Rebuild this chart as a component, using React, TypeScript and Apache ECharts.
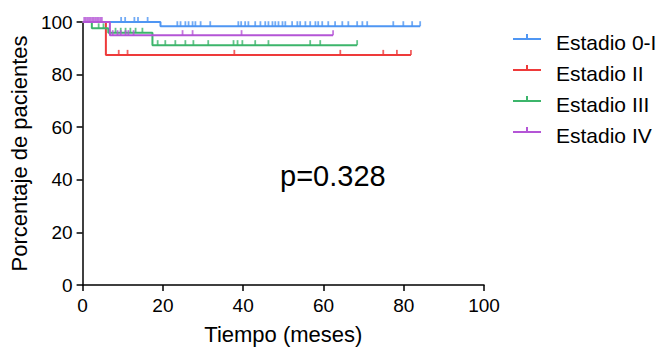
import React, { useEffect, useRef } from "react";
import * as echarts from "echarts";

// ---- data ----
const groupNames = ["Estadio 0-I", "Estadio II", "Estadio III", "Estadio IV"];
const groupColors = ["#4f96f3", "#ee3a3a", "#3cb56b", "#b455d6"];

// Kaplan-Meier steps: [month, % survival]
const stepsEstadio0I: [number, number][] = [[0, 100], [19.4, 98.4], [84.1, 98.4]];
const stepsEstadioII: [number, number][] = [[0, 100], [5.8, 87.5], [81.8, 87.5]];
const stepsEstadioIII: [number, number][] = [[0, 100], [2.3, 97.6], [6.4, 95.9], [17.4, 91.2], [68.4, 91.2]];
const stepsEstadioIV: [number, number][] = [[0, 100], [6.8, 95.0], [62.4, 95.0]];

// censored observations (months)
const censorEstadio0I = [9.6, 10.6, 12.9, 13.8, 16.2, 23.6, 24.4, 25.6, 26.4, 27.4, 28.1, 29.4, 31.8, 38.8, 39.5, 40.5, 41.3, 43.0, 44.3, 45.5, 46.3, 47.3, 48.0, 48.8, 49.8, 50.5, 52.2, 53.5, 54.2, 55.5, 56.7, 58.0, 58.7, 59.7, 61.2, 62.9, 64.7, 66.2, 68.4, 69.7, 70.9, 77.4, 79.9, 82.1, 84.1];
const censorEstadioII = [9.0, 11.2, 37.8, 64.2, 74.9, 78.3, 81.8];
const censorEstadioIII = [4.0, 5.2, 8.2, 9.5, 10.7, 11.9, 13.2, 14.9, 18.7, 20.6, 23.1, 25.6, 27.6, 31.3, 37.6, 38.6, 39.8, 43.0, 46.3, 56.7, 59.2, 68.4];
const censorEstadioIV = [0.4, 0.8, 1.2, 1.6, 2.0, 2.4, 2.8, 3.2, 3.6, 4.0, 4.4, 4.8, 7.5, 8.7, 9.5, 10.7, 11.4, 12.7, 24.9, 27.4, 39.6, 62.4];

const allSteps = [stepsEstadio0I, stepsEstadioII, stepsEstadioIII, stepsEstadioIV];
const allCensor = [censorEstadio0I, censorEstadioII, censorEstadioIII, censorEstadioIV];

const xAxisTitle = "Tiempo (meses)";
const yAxisTitle = "Porcentaje de pacientes";
const pValueText = "p=0.328";

const FONT = "'Liberation Sans', Arial, Helvetica, sans-serif";

function levelAt(steps: [number, number][], t: number): number {
  let v = steps[0][1];
  for (const [tt, s] of steps) if (tt <= t) v = s;
  return v;
}

const LEGEND_ICON =
  "path://M0,4 L28,4 L28,6 L0,6 Z M13,0 L15,0 L15,5 L13,5 Z M37.98,16 L38,16 L38,15.98 Z";

export default function App() {
  const ref = useRef<HTMLDivElement>(null);
  useEffect(() => {
    if (!ref.current) return;
    const chart = echarts.init(ref.current, undefined, { renderer: "svg" });
    const lineSeries = groupNames.map((name, i) => ({
      name,
      type: "line",
      step: "end",
      data: allSteps[i],
      showSymbol: false,
      symbol: "none",
      clip: false,
      silent: true,
      z: 2 + i,
      itemStyle: { color: groupColors[i] },
      lineStyle: { color: groupColors[i], width: 2 },
    }));
    const censorSeries = groupNames.map((name, i) => ({
      name,
      type: "scatter",
      data: allCensor[i].map((t) => [t, levelAt(allSteps[i], t)]),
      symbol: "rect",
      symbolSize: [1.8, 5],
      symbolOffset: [0, -2.5],
      clip: false,
      silent: true,
      z: 2 + i,
      itemStyle: { color: groupColors[i] },
    }));
    const axisCommon = {
      type: "value",
      min: 0,
      max: 100,
      interval: 20,
      nameLocation: "middle",
      nameTextStyle: { fontSize: 22, color: "#000", fontFamily: FONT },
      axisLine: { show: true, onZero: false, lineStyle: { color: "#000", width: 1.5 } },
      axisTick: { show: true, length: 6, lineStyle: { color: "#000", width: 1.5 } },
      axisLabel: { fontSize: 19, color: "#000", fontFamily: FONT },
      splitLine: { show: false },
    };
    chart.setOption({
      animation: false,
      textStyle: { fontFamily: FONT },
      grid: { left: 82, top: 22, width: 402, height: 269, containLabel: false },
      xAxis: {
        ...axisCommon,
        name: xAxisTitle,
        nameGap: 38,
        axisLabel: { ...axisCommon.axisLabel, margin: 10.5 },
      },
      yAxis: {
        ...axisCommon,
        name: yAxisTitle,
        nameGap: 51,
        axisLabel: { ...axisCommon.axisLabel, margin: 10 },
      },
      legend: {
        orient: "vertical",
        left: 513,
        top: 31,
        padding: 0,
        itemWidth: 38,
        itemHeight: 16,
        itemGap: 9,
        selectedMode: false,
        itemStyle: { borderWidth: 0 },
        textStyle: { fontSize: 21, color: "#000", fontFamily: FONT, lineHeight: 22 },
        data: groupNames.map((name) => ({ name, icon: LEGEND_ICON })),
      },
      graphic: [
        {
          type: "text",
          x: 280,
          y: 176,
          style: {
            text: pValueText,
            fontSize: 29,
            fill: "#000",
            fontFamily: FONT,
            verticalAlign: "middle",
            align: "left",
          },
        },
      ],
      series: [...lineSeries, ...censorSeries],
    });
    return () => chart.dispose();
  }, []);
  return (
    <div
      ref={ref}
      style={{ position: "absolute", left: 0, top: 0, width: 664, height: 350 }}
    />
  );
}
